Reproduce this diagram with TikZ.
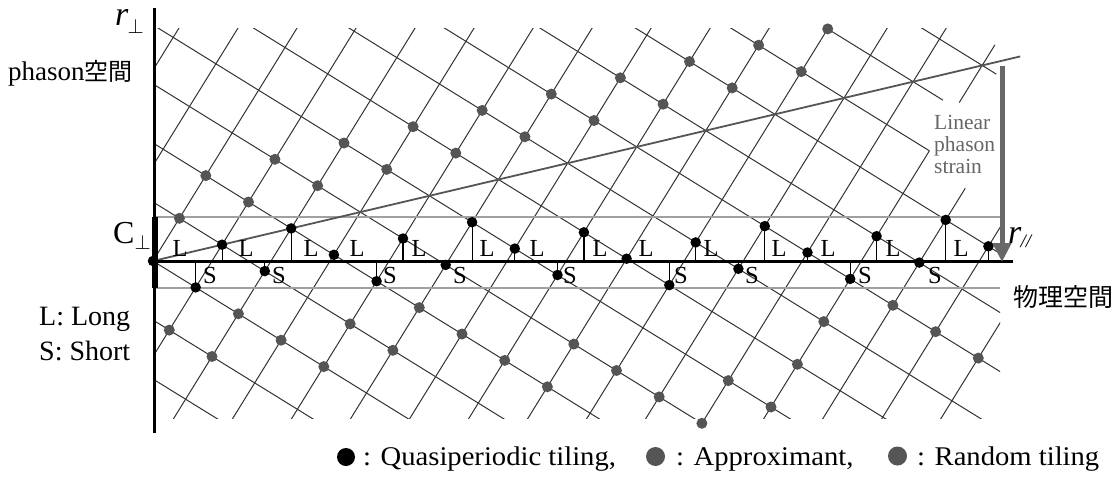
\documentclass[tikz,border=0pt]{standalone}
\usepackage{fontspec}
\setmainfont{Liberation Serif}
\newfontfamily\cjk{Noto Sans CJK JP}
\usetikzlibrary{arrows.meta}
\definecolor{dotgray}{HTML}{555555}
\definecolor{straingray}{HTML}{555555}
\definecolor{textgray}{HTML}{666666}
\definecolor{arrowgray}{HTML}{686868}
\definecolor{stripgray}{HTML}{A0A0A0}
\begin{document}
\begin{tikzpicture}[x=1pt,y=-1pt,
  gridline/.style={line width=1pt,black!80},
  bdot/.style={circle,fill=black,inner sep=0pt,minimum size=10.5pt},
  gdot/.style={circle,fill=dotgray,inner sep=0pt,minimum size=11pt},
  stemline/.style={line width=1.2pt,black},
  lab/.style={inner sep=0pt,font=\fontsize{24.5}{24.5}\selectfont},
  stripline/.style={line width=1.3pt,stripgray},
  axisline/.style={line width=3pt,black},
  strainline/.style={line width=1.8pt,straingray},
  legtext/.style={anchor=base west,inner sep=0pt,font=\fontsize{27}{27}\selectfont},
  sidetext/.style={anchor=base west,inner sep=0pt,font=\fontsize{28}{28}\selectfont},
  straintext/.style={anchor=base west,inner sep=0pt,text=textgray,font=\fontsize{21.5}{22}\selectfont},
  lattice/.style={shift={(153pt,-261pt)},x={(42.7pt,-26.4pt)},y={(26.4pt,42.7pt)}}
]
\useasboundingbox (0,0) rectangle (1120,477);

% ---------- lattice grid ----------
\begin{scope}
\clip (153,28) rectangle (1000,418);
\begin{scope}[lattice]
\foreach \n in {-3,...,9} \draw[gridline] (-6,\n) -- (20,\n);
\draw[gridline] (-6,10) -- (12,10);
\draw[gridline] (-6,11) -- (11.7,11);
\draw[gridline] (-6,12) -- (12.33,12);
\foreach \m in {-3,...,11} \draw[gridline] (\m,-6) -- (\m,20);
\foreach \m in {14,15} \draw[gridline] (\m,-6) -- (\m,20);
\draw[gridline] (12,-6) -- (12,10);
\draw[gridline] (12,11.13) -- (12,12.48);
\draw[gridline] (13,-6) -- (13,9.74);
\end{scope}
\end{scope}

% ---------- strip boundaries ----------
\coordinate (sta) at (153,217);
\coordinate (stb) at (1000,217);
\coordinate (sba) at (153,288);
\coordinate (sbb) at (1000,288);
\draw[stripline] (sta) -- (stb);
\draw[stripline] (sba) -- (sbb);

% ---------- strain line, stems ----------
\begin{scope}[lattice]
\coordinate (o) at (0,0);
\coordinate (strainend) at (12.55,12.55);
\draw[strainline] (o) -- (strainend);
\foreach \m/\n [count=\i] in {0/0,1/0,1/1,2/1,2/2,3/2,4/2,4/3,5/3,5/4,6/4,7/4,7/5,8/5,9/5,9/6,10/6,10/7,11/7,12/7,12/8,13/8,13/9,14/9}{
  \coordinate (p\i) at (\m,\n);
  \draw[stemline] (p\i) -- (p\i |- o);
}
\end{scope}

% ---------- axes ----------
\coordinate (ytop) at (154,8);
\coordinate (ybot) at (154,433);
\coordinate (xend) at (1013,261);
\coordinate (xstart) at (153,261);
\draw[axisline] (ybot) -- (ytop);
\draw[axisline] (xstart) -- (xend);
\coordinate (cbt) at (154.5,216.7);
\coordinate (cbb) at (154.5,288.3);
\draw[line width=6pt] (cbt) -- (cbb);

% ---------- phason strain arrow ----------
\coordinate (arrtop) at (1002,66);
\coordinate (arrbot) at (1002,262);
\draw[line width=5pt,arrowgray,-{Triangle[width=18pt,length=19pt]}] (arrtop) -- (arrbot);

% ---------- dots ----------
\begin{scope}[lattice]
\foreach \i in {1,...,24} \node[bdot] (q\i) at (p\i) {};
\foreach \m/\n [count=\i] in {0/1,0/2,1/2,1/3,2/3,2/4,3/4,3/5,4/5,4/6,5/6,5/7,6/7,6/8,7/8,7/9,8/9,8/10,9/10,9/11}
  \node[gdot] (u\i) at (\m,\n) {};
\foreach \m/\n [count=\i] in {1/-1,2/-1,2/0,3/0,4/0,4/1,5/1,5/2,6/2,7/2,8/2,8/3,9/3,10/3,11/3,11/4,12/4,12/5,12/6,13/7,14/7,15/7}
  \node[gdot] (w\i) at (\m,\n) {};
\end{scope}

% ---------- L / S labels ----------
\foreach \x [count=\i] in {180,246,311,357,419,487,537,600,646,711,779,828,893,961}
  \node[lab] (L\i) at (\x,248) {L};
\foreach \x [count=\i] in {210,279,390,460,570,681,752,865,935}
  \node[lab] (S\i) at (\x,276) {S};

% ---------- texts ----------
\node[anchor=base west,inner sep=0pt,font=\fontsize{34}{34}\selectfont] (rperp) at (115,25)
  {\textit{r}\kern-1pt\raisebox{-8pt}{\fontsize{22}{22}\selectfont$\perp$}};
\node[anchor=base west,inner sep=0pt,font=\fontsize{27}{27}\selectfont] (phason) at (8,80)
  {phason{\cjk\fontsize{24}{24}\selectfont 空間}};
\node[anchor=base west,inner sep=0pt,font=\fontsize{32}{32}\selectfont] (cperp) at (113,243)
  {C\raisebox{-6pt}{\fontsize{20}{20}\selectfont$\perp$}};
\node[anchor=base west,inner sep=0pt,font=\fontsize{34}{34}\selectfont] (rpar) at (1008,243)
  {\textit{r}\kern-1pt\raisebox{-4pt}{\fontsize{19}{19}\selectfont\textit{//}}};
\node[anchor=base west,inner sep=0pt,font=\cjk\fontsize{25}{25}\selectfont] (phys) at (1013,306) {物理空間};
\node[sidetext] (long) at (39,325) {L: Long};
\node[sidetext] (short) at (39,360) {S: Short};
\node[straintext] (lin1) at (934,129) {Linear};
\node[straintext] (lin2) at (934,151) {phason};
\node[straintext] (lin3) at (934,173) {strain};

% ---------- legend ----------
\node[circle,fill=black,inner sep=0pt,minimum size=18pt] (leg1) at (346,457) {};
\node[legtext] (legt1) at (363,465) {\scalebox{1.06}[1]{: Quasiperiodic tiling,}};
\node[circle,fill=dotgray,inner sep=0pt,minimum size=19pt] (leg2) at (655.5,456.5) {};
\node[legtext] (legt2) at (676,465) {\scalebox{1.06}[1]{: Approximant,}};
\node[circle,fill=dotgray,inner sep=0pt,minimum size=19pt] (leg3) at (897.5,456) {};
\node[legtext] (legt3) at (917,465) {\scalebox{1.06}[1]{: Random tiling}};
\end{tikzpicture}
\end{document}
